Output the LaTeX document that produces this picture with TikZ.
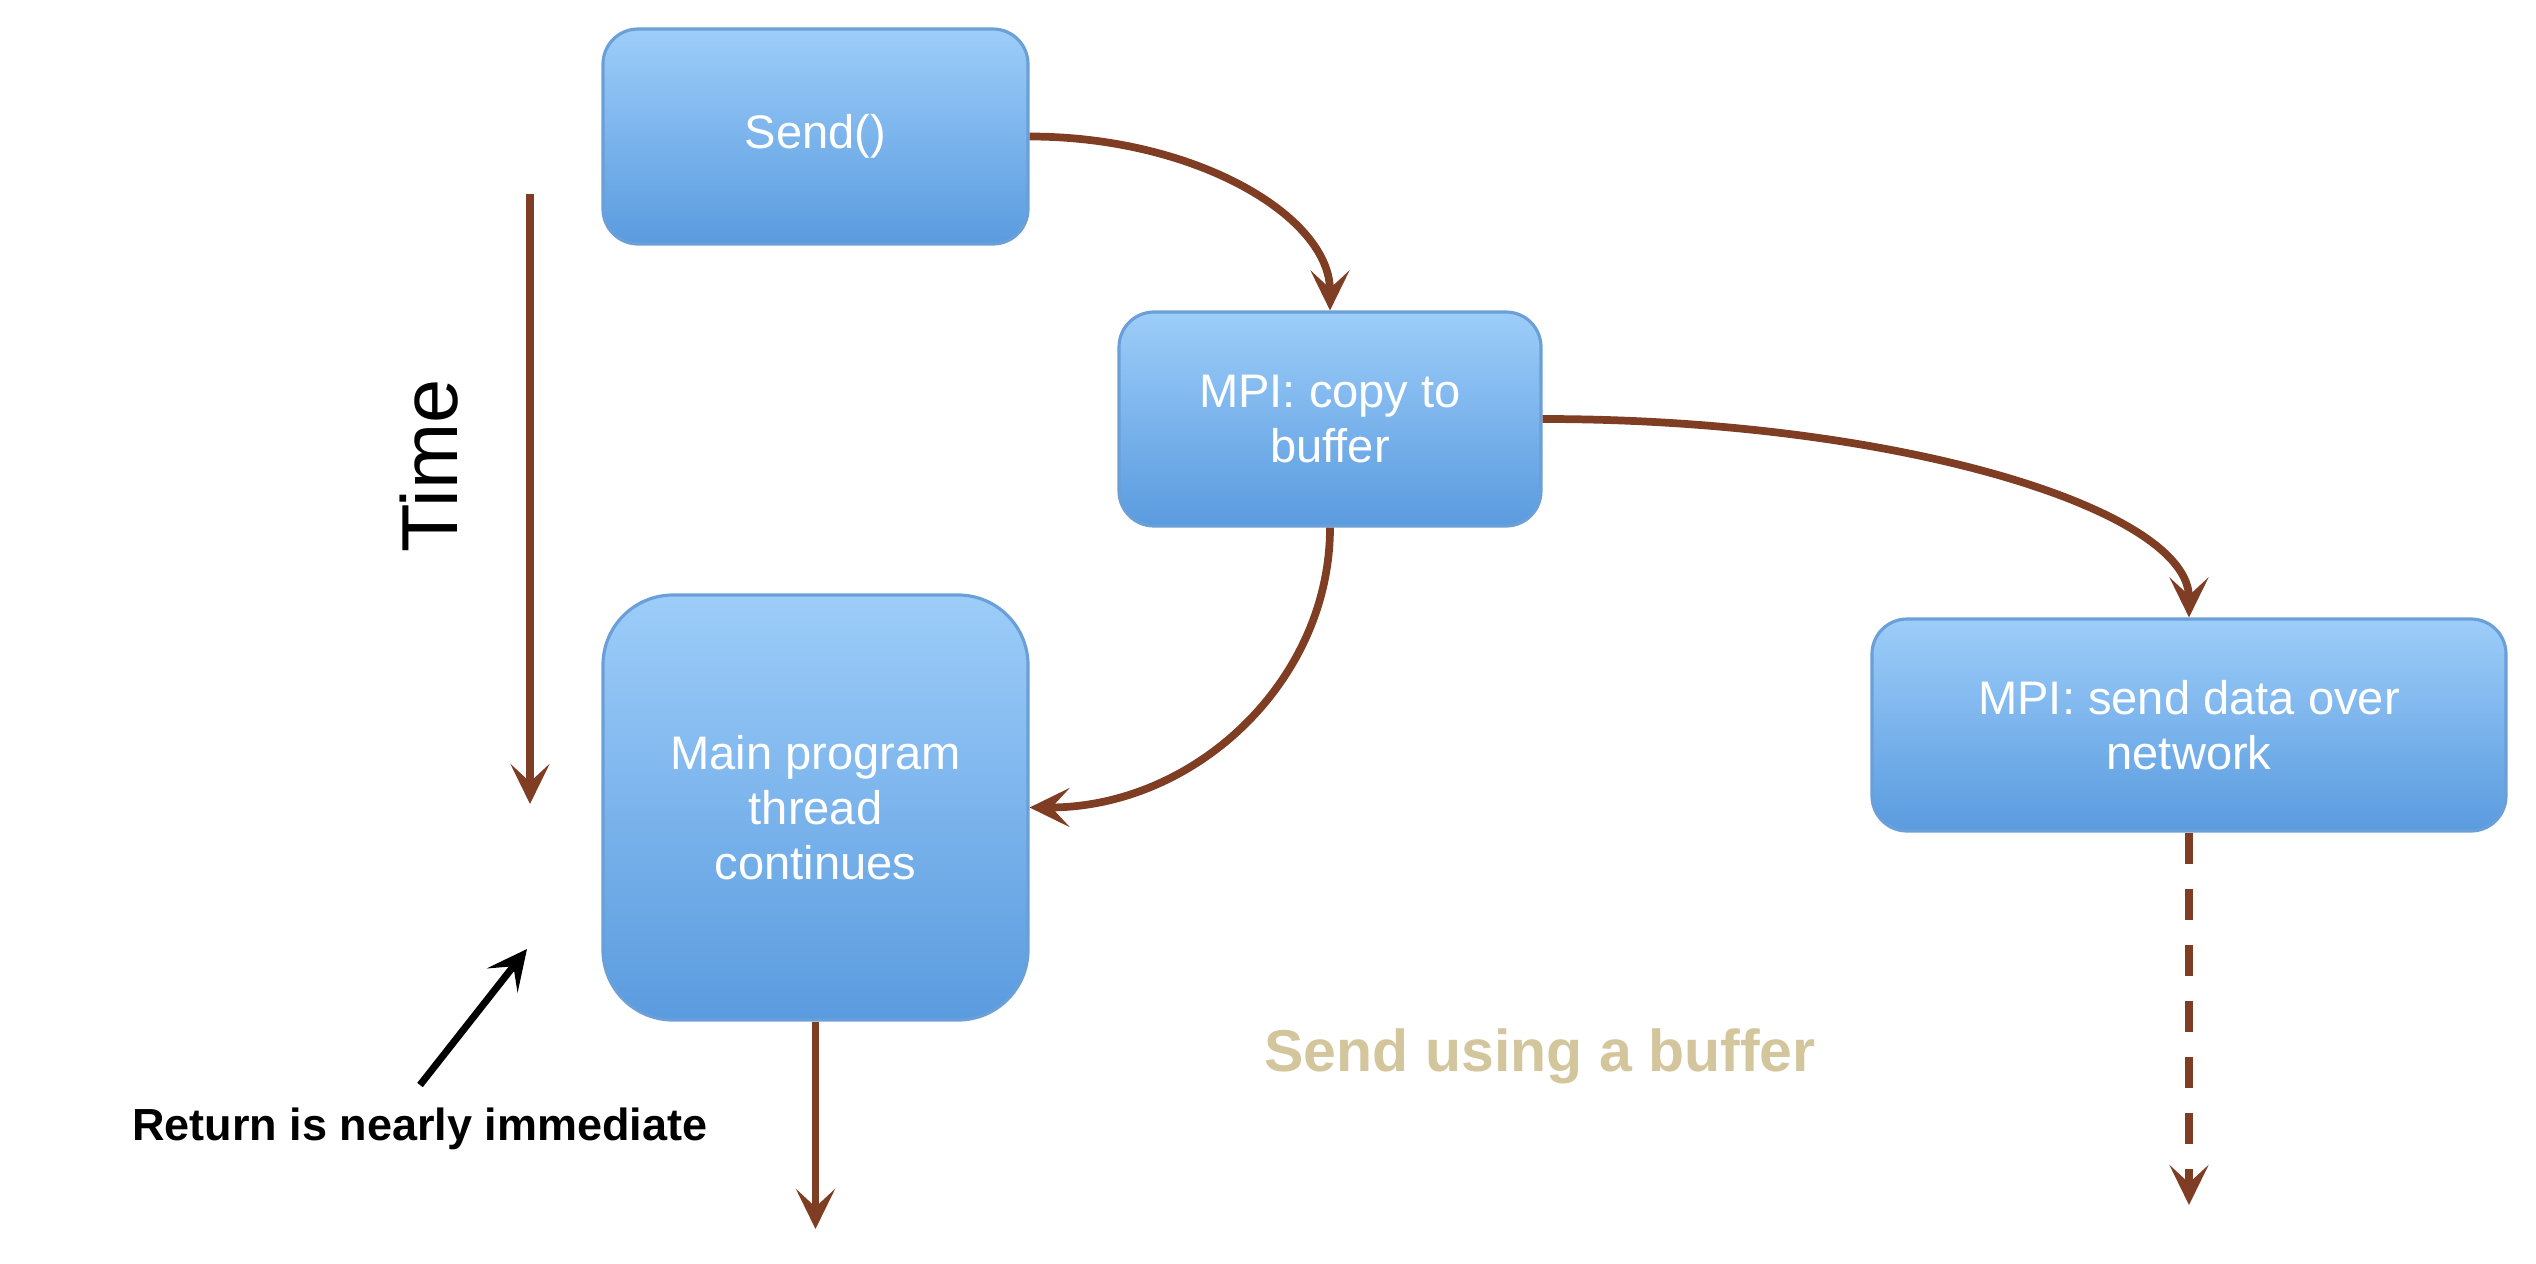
\documentclass[tikz,border=0pt]{standalone}
\usepackage{fontspec}
\setmainfont{Liberation Sans}
\usetikzlibrary{arrows.meta,positioning,shadings}
\definecolor{flowbrown}{HTML}{7F3D24}
\definecolor{boxtop}{HTML}{9DCDF9}
\definecolor{boxmid}{HTML}{88BBF0}
\definecolor{boxbot}{HTML}{5A9BDF}
\definecolor{boxline}{HTML}{6A9FD8}
\definecolor{titletan}{HTML}{D3C59C}

\begin{document}
\begin{tikzpicture}[step box/.style={rectangle, rounded corners=#1, draw=boxline, line width=0.9pt, top color=boxtop, middle color=boxmid, bottom color=boxbot, text=white, align=center, font=\fontsize{13.4}{15.6}\selectfont},
flow/.style={draw=flowbrown, line width=2.2pt, -{Stealth[length=4mm, width=3.9mm, inset=1.8mm]}}]

\useasboundingbox (0,0) rectangle (25.36,-12.64);

% BOXES

\node [step box=3.5mm, minimum width=4.25cm, minimum height=2.15cm] (send) at (8.155,-1.365) {Send()};

\node [step box=3.5mm, minimum width=4.22cm, minimum height=2.14cm] (copy) at (13.3,-4.19) {MPI: copy to\\buffer};

\node [step box=7mm, minimum width=4.25cm, minimum height=4.25cm] (main) at (8.155,-8.075) {Main program\\thread\\continues};

\node [step box=3.5mm, minimum width=6.34cm, minimum height=2.12cm] (net) at (21.89,-7.25) {MPI: send data over\\network};

% LABELS

\node [rotate=90, font=\fontsize{22.6}{24}\selectfont] (time) at (4.29,-4.66) {Time};

\node [font=\fontsize{12.8}{15}\selectfont\bfseries] (ret) at (4.2,-11.29) {Return is nearly immediate};

\node [text=titletan, font=\fontsize{16.8}{20}\selectfont\bfseries] (title) at (15.4,-10.56) {Send using a buffer};

\coordinate (tstart) at (5.3,-1.94);
\coordinate (tend) at (5.3,-8.04);
\coordinate (retstart) at (4.2,-10.85);
\coordinate (rettip) at (5.27,-9.49);
\coordinate (mainend) at (8.155,-12.29);
\coordinate (netend) at (21.89,-12.05);

% ARROWS

\draw[flow] (send.east) .. controls +(1.66,0) and +(0,0.94) .. (copy.north);

\draw[flow] (copy.east) .. controls +(3.55,0) and +(0,1.08) .. (net.north);

\draw[flow] (copy.south) .. controls +(0,-1.53) and +(1.66,0) .. (main.east);

\draw[flow] (tstart) -- (tend);

\draw[flow] (main.south) -- (mainend);

\draw[flow, dash pattern=on 3.1mm off 2.5mm] (net.south) -- (netend);

\draw[line width=2pt, -{Stealth[length=4mm, width=3.9mm, inset=1.8mm]}] (retstart) -- (rettip);

\end{tikzpicture}
\end{document}
